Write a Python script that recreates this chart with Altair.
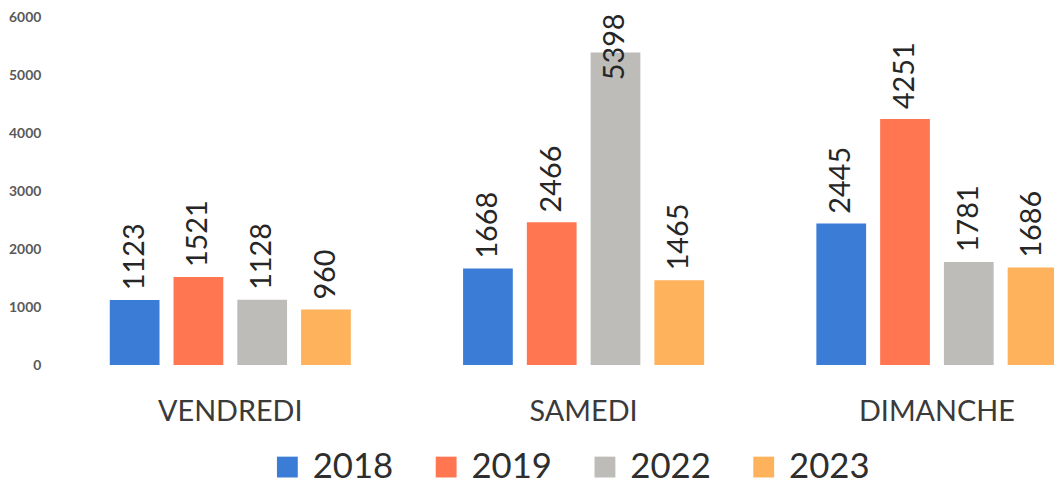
import altair as alt
import pandas as pd

days = ["VENDREDI", "SAMEDI", "DIMANCHE"]
years = ["2018", "2019", "2022", "2023"]
v2018 = [1123, 1668, 2445]
v2019 = [1521, 2466, 4251]
v2022 = [1128, 5398, 1781]
v2023 = [960, 1465, 1686]
colors = ["#3b7dd6", "#ff7650", "#bebcb9", "#ffb25c"]
y_ticks = [0, 1000, 2000, 3000, 4000, 5000, 6000]

rows = []
for yr, vals in zip(years, [v2018, v2019, v2022, v2023]):
    for d, v in zip(days, vals):
        rows.append({"jour": d, "annee": yr, "valeur": v})
df = pd.DataFrame(rows)

FONT = "Lato"

x = alt.X(
    "jour:N", sort=days,
    scale=alt.Scale(range=[0, 1068], paddingInner=0, paddingOuter=0),
    axis=alt.Axis(title=None, labelAngle=0, domain=False, ticks=False,
                  labelPadding=33, labelFontSize=29, labelFont=FONT,
                  labelColor="#3a3a3a"),
)
xo = alt.XOffset("annee:N", sort=years,
                 scale=alt.Scale(paddingInner=0.22, paddingOuter=0.88))
yscale = alt.Scale(domain=[0, 6000], nice=False)
yaxis = alt.Axis(values=y_ticks, format="d", title=None, grid=False,
                 domain=False, ticks=False, labelPadding=13, labelFontSize=14,
                 labelFont=FONT, labelFontWeight="bold",
                 labelColor="#595959")

bars = alt.Chart(df).mark_bar().encode(
    x=x,
    xOffset=xo,
    y=alt.Y("valeur:Q", scale=yscale, axis=yaxis),
    color=alt.Color(
        "annee:N", sort=years,
        scale=alt.Scale(domain=years, range=colors),
        legend=alt.Legend(title=None, orient="none", legendX=218, legendY=435,
                          direction="horizontal", columns=4,
                          symbolType="square", symbolSize=441,
                          symbolStrokeWidth=0, symbolOpacity=1,
                          labelFontSize=35, labelFont=FONT,
                          labelColor="#2e2e2e", labelOffset=8,
                          columnPadding=35),
    ),
)

labels = alt.Chart(df).transform_calculate(
    ly="min(datum.valeur, 4750)"
).mark_text(
    angle=270, align="left", baseline="middle", dx=10,
    fontSize=29, font=FONT, color="#262626",
).encode(
    x=x,
    xOffset=xo,
    y=alt.Y("ly:Q", scale=yscale, axis=yaxis),
    text=alt.Text("valeur:Q", format="d"),
)

chart = alt.layer(bars, labels).properties(
    width=1000, height=350,
    padding={"left": 46, "top": 8, "right": 8, "bottom": 120},
    autosize=alt.AutoSizeParams(type="none"),
).configure_view(stroke=None)

chart.save("out.html", embed_options={"renderer": "svg", "actions": False})
